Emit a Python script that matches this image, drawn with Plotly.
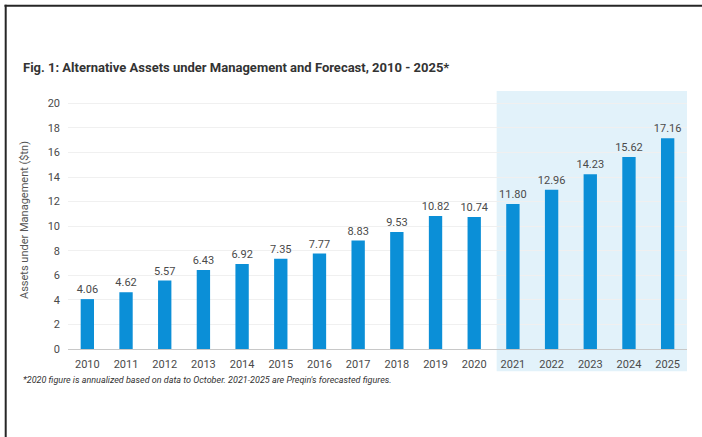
import plotly.graph_objects as go

# Alternative assets under management, $tn (2020 annualized, 2021-2025 forecast)
years = ["2010", "2011", "2012", "2013", "2014", "2015", "2016", "2017",
         "2018", "2019", "2020", "2021", "2022", "2023", "2024", "2025"]
aum = [4.06, 4.62, 5.57, 6.43, 6.92, 7.35, 7.77, 8.83,
       9.53, 10.82, 10.74, 11.80, 12.96, 14.23, 15.62, 17.16]
y_ticks = [0, 2, 4, 6, 8, 10, 12, 14, 16, 18, 20]

BAR = "#0b8fd7"
SHADE = "#e2f2fa"
TEXT = "#4a4a4a"
FONT = "Roboto, Arial, sans-serif"

fig = go.Figure(go.Bar(
    x=list(range(len(years))),
    y=aum,
    marker=dict(color=BAR, line=dict(width=0)),
    text=[f"{v:.2f}" for v in aum],
    textposition="outside",
    constraintext="none",
    cliponaxis=False,
    textfont=dict(family=FONT, size=11, color=TEXT),
))

W, H = 702, 437
ml, mr, mt, mb = 68, 15, 91, 88

# forecast band, from 2021 to the right edge, reaching below the year labels
fig.add_shape(type="rect", xref="x", yref="paper",
              x0=10.58, x1=15.5, y0=-0.086, y1=1.0,
              fillcolor=SHADE, line=dict(width=0), layer="below")

# frame lines along the top and left edges of the page
def px_x(p):
    return (p - ml) / (W - ml - mr)

def px_y(p):
    return (H - mb - p) / (H - mt - mb)

fig.add_shape(type="line", xref="paper", yref="paper",
              x0=px_x(4.5), x1=px_x(702), y0=px_y(5.7), y1=px_y(5.7),
              line=dict(color="#262626", width=2))
fig.add_shape(type="line", xref="paper", yref="paper",
              x0=px_x(5.7), x1=px_x(5.7), y0=px_y(4.7), y1=px_y(437),
              line=dict(color="#262626", width=2))

fig.add_annotation(xref="paper", yref="paper", x=px_x(21), y=px_y(67),
                   xanchor="left", yanchor="middle", showarrow=False,
                   text="<b>Fig. 1: Alternative Assets under Management and Forecast, 2010 - 2025*</b>",
                   font=dict(family=FONT, size=13, color="#333333"))
fig.add_annotation(xref="paper", yref="paper", x=px_x(21), y=px_y(380),
                   xanchor="left", yanchor="middle", showarrow=False,
                   text="<i>*2020 figure is annualized based on data to October. 2021-2025 are Preqin's forecasted figures.</i>",
                   font=dict(family=FONT, size=9, color="#333333"))

fig.update_layout(
    width=W, height=H,
    margin=dict(l=ml, r=mr, t=mt, b=mb, pad=0),
    paper_bgcolor="white", plot_bgcolor="white",
    showlegend=False,
    bargap=0.655,
    font=dict(family=FONT, color=TEXT),
    xaxis=dict(
        tickmode="array", tickvals=list(range(len(years))), ticktext=years,
        range=[-0.5, 15.5], showgrid=False, zeroline=False,
        showline=True, linecolor="#c8c8c8", linewidth=1,
        ticks="", tickfont=dict(family=FONT, size=11, color=TEXT),
        ticklabelstandoff=5,
    ),
    yaxis=dict(
        range=[0, 21], tickvals=y_ticks, showgrid=True,
        gridcolor="#f0f0f0", gridwidth=1, zeroline=False, ticks="",
        tickfont=dict(family=FONT, size=11, color=TEXT),
        ticklabelstandoff=7,
        title=dict(text="Assets under Management ($tn)", standoff=16,
                   font=dict(family=FONT, size=11, color="#555555")),
    ),
)

fig.write_html("out.html")
